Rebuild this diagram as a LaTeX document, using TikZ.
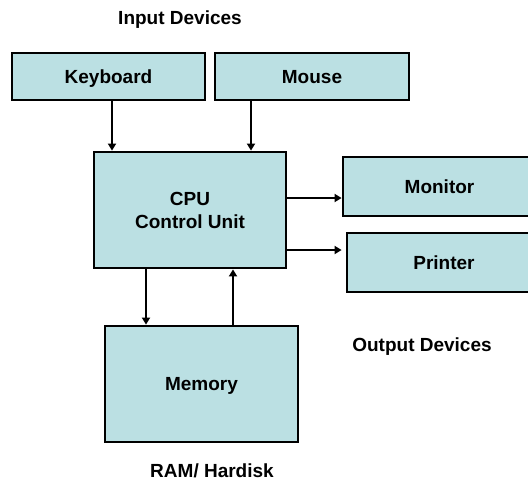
\documentclass[tikz,border=0pt]{standalone}
\usepackage{fontspec}
\setmainfont{Liberation Sans}
\usetikzlibrary{arrows.meta}
\definecolor{boxfill}{RGB}{187,224,227}
\begin{document}
\begin{tikzpicture}[x=1pt,y=-1pt,
  box/.style={draw=black,line width=2.8pt,fill=boxfill,inner sep=0pt,
    font=\fontsize{19}{23.5}\selectfont\bfseries,align=center,
    text height=13.5pt,text depth=0pt},
  lbl/.style={font=\fontsize{19}{22}\selectfont\bfseries,anchor=base},
  arr/.style={draw=black,line width=2pt,-{Triangle[length=7pt,width=8pt]}}]
\clip (0,0) rectangle (528,482);
\fill[white] (0,0) rectangle (528,482);
\node[box,minimum width=193pt,minimum height=47pt] (kb) at (108.5,76.5) {Keyboard};
\node[box,minimum width=194pt,minimum height=47pt] (ms) at (312,76.5) {Mouse};
\node[box,minimum width=192pt,minimum height=116pt,text height=37pt] (cpu) at (190,210) {CPU\\Control Unit};
\node[box,minimum width=193pt,minimum height=59pt] (mon) at (439.5,186.5) {Monitor};
\node[box,minimum width=194pt,minimum height=59pt] (pr) at (444,262.5) {Printer};
\node[box,minimum width=193pt,minimum height=116pt] (mem) at (201.5,384) {Memory};
\node[lbl] (inp) at (180,24.5) {Input Devices};
\node[lbl] (out) at (422,351.5) {Output Devices};
\node[lbl] (ram) at (212,477) {RAM/ Hardisk};
\draw[arr] (kb.south -| 112,0) -- (cpu.north -| 112,0);
\draw[arr] (ms.south -| 251,0) -- (cpu.north -| 251,0);
\draw[arr] (cpu.east |- 0,198) -- (mon.west |- 0,198);
\draw[arr,shorten >=4pt] (cpu.east |- 0,250) -- (pr.west |- 0,250);
\draw[arr] (cpu.south -| 146,0) -- (mem.north -| 146,0);
\draw[arr] (mem.north -| 233,0) -- (cpu.south -| 233,0);
\end{tikzpicture}
\end{document}
